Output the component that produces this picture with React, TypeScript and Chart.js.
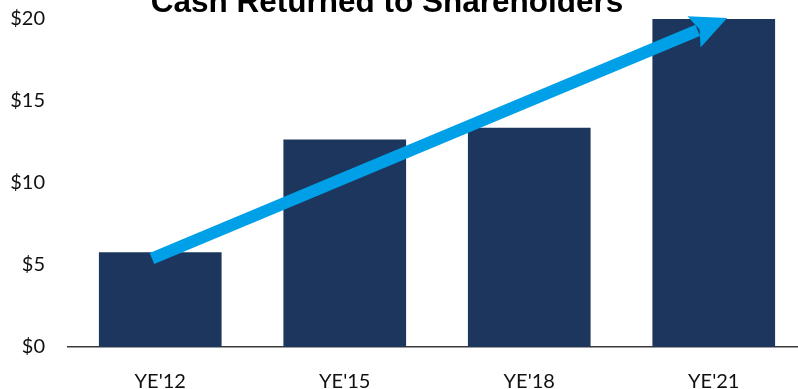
import React, { useEffect, useRef } from "react";
import { Chart, registerables } from "chart.js";

Chart.register(...registerables);

const categories = ["YE'12", "YE'15", "YE'18", "YE'21"];
const cashReturned = [5.78, 12.65, 13.37, 20.0];
const yTicks = [0, 5, 10, 15, 20];
const titleText = "Cash Returned to Shareholders";
// arrow endpoints: [category index, category offset, value]
const arrowFrom = [0, -0.045, 5.4];
const arrowTo = [3, 0.073, 20.06];

const BAR = "#1C365D";
const ARROW = "#00A0E9";
const FONT = "Lato, 'Open Sans', sans-serif";
const SHIFT = 16;

const overlay = {
  id: "overlay",
  afterDatasetsDraw(chart: any) {
    const { ctx, scales } = chart;
    const xs = scales.x;
    const ys = scales.y;
    const step = xs.getPixelForValue(1) - xs.getPixelForValue(0);
    const x0 = xs.getPixelForValue(arrowFrom[0]) + arrowFrom[1] * step;
    const y0 = ys.getPixelForValue(arrowFrom[2]);
    const x1 = xs.getPixelForValue(arrowTo[0]) + arrowTo[1] * step;
    const y1 = ys.getPixelForValue(arrowTo[2]);
    const dx = x1 - x0;
    const dy = y1 - y0;
    const len = Math.sqrt(dx * dx + dy * dy);
    const ux = dx / len;
    const uy = dy / len;
    const headLen = 36;
    const headHalf = 17;
    const bx = x1 - ux * headLen;
    const by = y1 - uy * headLen;
    ctx.save();
    ctx.strokeStyle = ARROW;
    ctx.fillStyle = ARROW;
    ctx.lineWidth = 12;
    ctx.lineCap = "butt";
    ctx.beginPath();
    ctx.moveTo(x0, y0);
    ctx.lineTo(bx + ux * 4, by + uy * 4);
    ctx.stroke();
    ctx.beginPath();
    ctx.moveTo(x1, y1);
    ctx.lineTo(bx - uy * headHalf, by + ux * headHalf);
    ctx.lineTo(bx + ux * 6, by + uy * 6);
    ctx.lineTo(bx + uy * headHalf, by - ux * headHalf);
    ctx.closePath();
    ctx.fill();
    ctx.restore();
  },
  afterDraw(chart: any) {
    const { ctx } = chart;
    ctx.save();
    ctx.font = "bold 31.5px 'Liberation Sans', Arial, sans-serif";
    ctx.fillStyle = "#000";
    ctx.textAlign = "center";
    ctx.textBaseline = "alphabetic";
    ctx.fillText(titleText, 387, 12 + SHIFT);
    ctx.restore();
  },
};

export default function App() {
  const ref = useRef<HTMLCanvasElement | null>(null);
  useEffect(() => {
    if (!ref.current) return;
    const chart = new Chart(ref.current, {
      type: "bar",
      data: {
        labels: categories,
        datasets: [
          {
            data: cashReturned,
            backgroundColor: BAR,
            borderWidth: 0,
            categoryPercentage: 1,
            barPercentage: 0.665,
          },
        ],
      },
      options: {
        responsive: false,
        animation: false,
        layout: { padding: 0 },
        plugins: {
          legend: { display: false },
          tooltip: { enabled: false },
          title: { display: false },
        },
        scales: {
          x: {
            afterFit: (s: any) => {
              s.height = 42;
            },
            grid: { display: false, drawTicks: false },
            border: { display: true, color: "#3a3a3a", width: 1.5 },
            ticks: {
              color: "#111",
              font: { family: FONT, size: 20 },
              padding: 23,
              maxRotation: 0,
            },
          },
          y: {
            min: 0,
            max: 20,
            afterFit: (s: any) => {
              s.width = 68;
            },
            afterBuildTicks: (s: any) => {
              s.ticks = yTicks.map((v) => ({ value: v }));
            },
            grid: { display: false, drawTicks: false },
            border: { display: false },
            ticks: {
              color: "#111",
              font: { family: FONT, size: 20 },
              padding: 23,
              callback: (v: any) => "$" + v,
            },
          },
        },
      },
      plugins: [overlay],
    });
    return () => chart.destroy();
  }, []);
  return (
    <div
      style={{
        position: "fixed",
        left: 0,
        top: 0,
        width: 798,
        height: 389,
        overflow: "hidden",
        background: "#fff",
      }}
    >
      <canvas
        ref={ref}
        width={806}
        height={389 + SHIFT}
        style={{ display: "block", marginTop: -SHIFT }}
      />
    </div>
  );
}
